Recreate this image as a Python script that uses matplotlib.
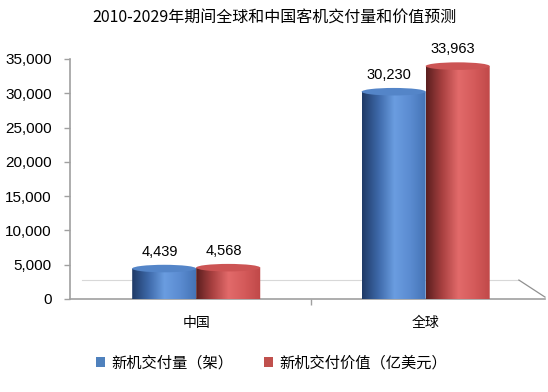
import matplotlib
matplotlib.use("Agg")
import matplotlib.pyplot as plt
import numpy as np
from matplotlib.colors import LinearSegmentedColormap
from matplotlib.patches import Ellipse, PathPatch, Rectangle
from matplotlib.path import Path

plt.rcParams['font.family'] = ['Liberation Sans', 'Noto Sans CJK SC', 'DejaVu Sans']

title = "2010-2029年期间全球和中国客机交付量和价值预测"
categories = ["中国", "全球"]
series_names = ["新机交付量（架）", "新机交付价值（亿美元）"]
deliveries = [4439, 30230]
values_usd = [4568, 33963]
yticks = [0, 5000, 10000, 15000, 20000, 25000, 30000, 35000]

series = [deliveries, values_usd]
body_colors = [
    ["#1f3a66", "#3d68a8", "#6a9de0", "#5a8bd0", "#4372b4"],
    ["#5a1f1f", "#a84040", "#e26a6a", "#d45a5a", "#bf4848"],
]
top_colors = ["#5485c8", "#cc5454"]
legend_colors = ["#4f81bd", "#c0504d"]

XLIM = (-0.55, 1.52)

fig = plt.figure(figsize=(5.48, 3.92), dpi=100)
ax = fig.add_axes([70 / 548, 93 / 392, 475 / 548, 240 / 392])
ax.set_xlim(*XLIM)
ax.set_ylim(0, 35000)

bw = 0.279
ry = 550  # ellipse half-height in data units

for s, vals in enumerate(series):
    cmap = LinearSegmentedColormap.from_list(f"c{s}", body_colors[s])
    grad = np.linspace(0, 1, 256).reshape(1, -1)
    for i, v in enumerate(vals):
        x0 = i + (s - 1) * bw
        x1 = x0 + bw
        xc = (x0 + x1) / 2
        t = np.linspace(np.pi, 2 * np.pi, 60)
        arc_x = xc + (bw / 2) * np.cos(t)
        arc_y = ry * np.sin(t)
        verts = [(x0, v)] + list(zip(arc_x, arc_y)) + [(x1, v), (x0, v)]
        codes = [Path.MOVETO] + [Path.LINETO] * (len(verts) - 2) + [Path.CLOSEPOLY]
        clip = PathPatch(Path(verts, codes), transform=ax.transData,
                         facecolor='none', edgecolor='none')
        ax.add_patch(clip)
        im = ax.imshow(grad, cmap=cmap, extent=(x0, x1, -ry, v), aspect='auto',
                       zorder=3, interpolation='bilinear')
        im.set_clip_path(clip)
        ax.add_patch(Ellipse((xc, v), bw, 2 * ry, facecolor=top_colors[s],
                             edgecolor='none', zorder=4))
        ax.text(xc - 0.02, v + ry + 900, f"{v:,}", ha='center', va='bottom',
                fontsize=10.5, color='#000000', zorder=5)

ax.set_xlim(*XLIM)
ax.set_ylim(0, 35000)

# floor back edge (decorative)
ax.plot([0.025, 0.945], [0.079, 0.079], transform=ax.transAxes, color='#d8d8d8',
        lw=0.8, zorder=1, clip_on=False)
ax.plot([0.945, 1.0], [0.079, 0.008], transform=ax.transAxes, color='#909090',
        lw=0.9, zorder=1, clip_on=False)

for sp in ['top', 'right']:
    ax.spines[sp].set_visible(False)
for sp in ['left', 'bottom']:
    ax.spines[sp].set_color('#a0a0a0')
    ax.spines[sp].set_linewidth(1.2)
    ax.spines[sp].set_zorder(2)

ax.set_yticks(yticks)
ax.set_yticklabels([f"{t:,}" for t in yticks])
ax.tick_params(axis='y', length=4, width=1, color='#a0a0a0', pad=9,
               labelsize=11, labelcolor='#000000')
ax.set_xticks([0, 1])
ax.set_xticklabels(categories, family=['Noto Sans CJK SC', 'DejaVu Sans'])
ax.tick_params(axis='x', length=0, pad=12, labelsize=10, labelcolor='#000000')
ax.set_xticks([0.5], minor=True)
ax.tick_params(axis='x', which='minor', length=4, width=1, color='#a0a0a0')

fig.text(0.5, 1 - 18 / 392, title, ha='center', va='center', fontsize=11.5,
         family=['Noto Sans CJK SC', 'DejaVu Sans'], color='#000000')

handles = [Rectangle((0, 0), 1, 1, facecolor=c, edgecolor='none') for c in legend_colors]
leg = fig.legend(handles, series_names, loc='center', bbox_to_anchor=(0.495, 1 - 363 / 392),
                 ncol=2, frameon=False, handlelength=0.6, handleheight=0.6,
                 handletextpad=0.4, columnspacing=2.0,
                 prop={'family': ['Noto Sans CJK SC', 'DejaVu Sans'], 'size': 11})

fig.savefig("out.png", dpi=100)
